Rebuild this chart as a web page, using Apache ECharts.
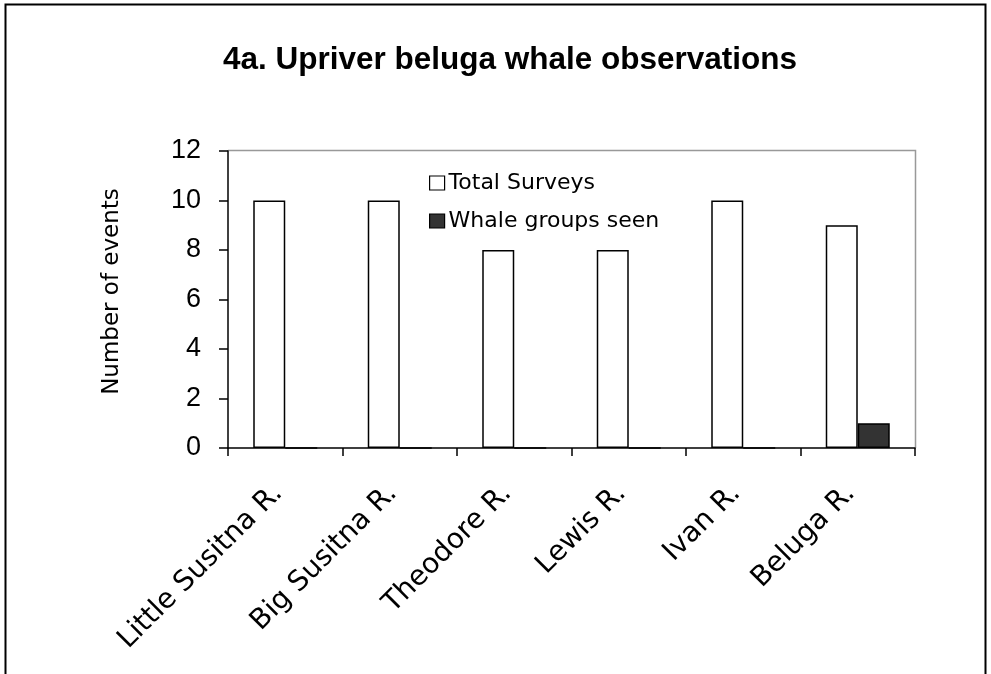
<!DOCTYPE html>
<html>
<head>
<meta charset="utf-8">
<script src="https://cdn.jsdelivr.net/npm/echarts@6/dist/echarts.min.js"></script>
<style>html,body{margin:0;padding:0;background:#fff;}#c{width:991px;height:674px;}</style>
</head>
<body>
<div id="c"></div>
<script>
const categories = ['Little Susitna R.', 'Big Susitna R.', 'Theodore R.', 'Lewis R.', 'Ivan R.', 'Beluga R.'];
const totalSurveys = [10, 10, 8, 8, 10, 9];
const whaleGroups = [0, 0, 0, 0, 0, 1];
const yTicks = [0, 2, 4, 6, 8, 10, 12];

const chart = echarts.init(document.getElementById('c'));
const font = 'Arial, "Liberation Sans", sans-serif';
const wide = '"DejaVu Sans", Arial, sans-serif';
chart.setOption({
  animation: false,
  backgroundColor: '#fff',
  title: {
    text: '4a. Upriver beluga whale observations',
    left: 505, top: 39, textAlign: 'center',
    textStyle: { fontFamily: font, fontSize: 31.5, fontWeight: 'bold', color: '#000' }
  },
  graphic: [{
    type: 'rect', shape: { x: 5.5, y: 4.5, width: 980, height: 680 },
    style: { fill: 'none', stroke: '#000', lineWidth: 2 }, silent: true
  }, {
    type: 'polyline', shape: { points: [[228, 150.5], [915.5, 150.5], [915.5, 448]] },
    style: { fill: 'none', stroke: '#999', lineWidth: 1.5 }, silent: true
  }],
  legend: {
    orient: 'vertical', left: 424, top: 167, itemWidth: 15, itemHeight: 14, itemGap: 16,
    textStyle: { fontFamily: wide, fontSize: 22, color: '#000', padding: [0, 0, 0, -1] },
    data: [
      { name: 'Total Surveys', icon: 'rect', itemStyle: { color: '#fff', borderColor: '#000', borderWidth: 1.2 } },
      { name: 'Whale groups seen', icon: 'rect', itemStyle: { color: '#333', borderColor: '#000', borderWidth: 1.2 } }
    ]
  },
  grid: { left: 228, right: 76, top: 151, bottom: 226, containLabel: false },
  xAxis: {
    type: 'category', data: categories, boundaryGap: true,
    axisLine: { lineStyle: { color: '#000', width: 1.5 } },
    axisTick: { show: true, length: 8, alignWithLabel: false, lineStyle: { color: '#000', width: 1.5 } },
    axisLabel: { rotate: 45, interval: 0, margin: 34, padding: [0, 10, 0, 0], fontFamily: wide, fontSize: 28, color: '#000' }
  },
  yAxis: {
    type: 'value', min: yTicks[0], max: yTicks[yTicks.length - 1], interval: 2,
    name: 'Number of events', nameLocation: 'middle', nameGap: 104, nameRotate: 90,
    nameTextStyle: { fontFamily: wide, fontSize: 23, color: '#000', padding: [0, 0, 0, 16] },
    axisLine: { show: true, lineStyle: { color: '#000', width: 1.5 } },
    axisTick: { show: true, length: 9, lineStyle: { color: '#000', width: 1.5 } },
    axisLabel: { margin: 27, fontFamily: font, fontSize: 27, color: '#000' },
    splitLine: { show: false }
  },
  series: [{
    name: 'Total Surveys', type: 'bar', data: totalSurveys, barWidth: 32, barGap: '0%',
    itemStyle: { color: '#fff', borderColor: '#000', borderWidth: 1.5 }
  }, {
    name: 'Whale groups seen', type: 'bar', data: whaleGroups, barWidth: 32, barGap: '0%',
    itemStyle: { color: '#333', borderColor: '#000', borderWidth: 1.5 }
  }]
});
</script>
</body>
</html>
